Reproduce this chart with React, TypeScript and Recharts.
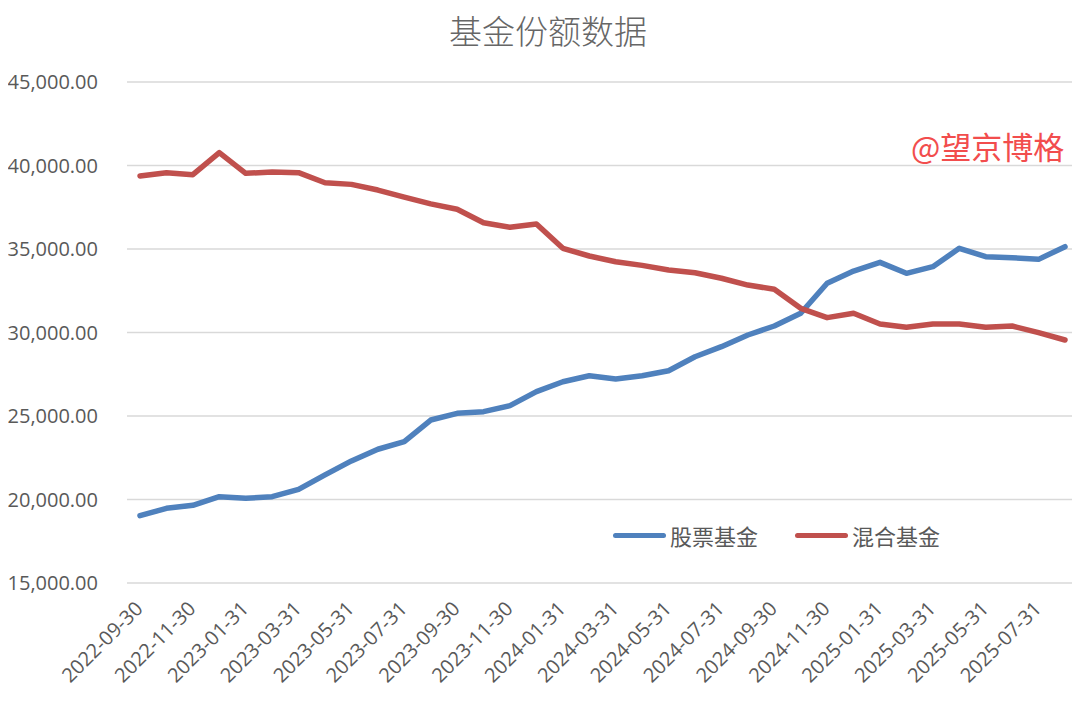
import { CartesianGrid, Line, LineChart, XAxis, YAxis } from 'recharts';

const dates = [
  '2022-09-30', '2022-10-31', '2022-11-30', '2022-12-31',
  '2023-01-31', '2023-02-28', '2023-03-31', '2023-04-30', '2023-05-31', '2023-06-30',
  '2023-07-31', '2023-08-31', '2023-09-30', '2023-10-31', '2023-11-30', '2023-12-31',
  '2024-01-31', '2024-02-29', '2024-03-31', '2024-04-30', '2024-05-31', '2024-06-30',
  '2024-07-31', '2024-08-31', '2024-09-30', '2024-10-31', '2024-11-30', '2024-12-31',
  '2025-01-31', '2025-02-28', '2025-03-31', '2025-04-30', '2025-05-31', '2025-06-30',
  '2025-07-31', '2025-08-31',
];

// 股票基金
const stockFund = [
  19030, 19470, 19650, 20170, 20070, 20170, 20610, 21470, 22310, 23010,
  23460, 24760, 25160, 25260, 25620, 26460, 27050, 27410, 27220, 27410,
  27710, 28550, 29150, 29850, 30390, 31150, 32950, 33680, 34200, 33545,
  33940, 35040, 34540, 34480, 34380, 35140,
];

// 混合基金
const mixedFund = [
  39370, 39570, 39450, 40770, 39530, 39610, 39570, 38970, 38870, 38530,
  38110, 37700, 37380, 36570, 36300, 36500, 35040, 34580, 34240, 34020,
  33740, 33580, 33250, 32840, 32590, 31450, 30890, 31150, 30510, 30310,
  30510, 30510, 30310, 30390, 29990, 29550,
];

const yTicks = [15000, 20000, 25000, 30000, 35000, 40000, 45000];

const seriesNames = ['股票基金', '混合基金'];
const seriesColors = ['#4f81bd', '#c0504d'];

const data = dates.map((d, i) => ({ date: d, stock: stockFund[i], mixed: mixedFund[i] }));

const tickFont = '"Open Sans", "Liberation Sans", sans-serif';
const cjkFont = '"Noto Sans CJK SC", sans-serif';
const gray = '#595959';

const fmt = (v: number) => v.toLocaleString('en-US', { minimumFractionDigits: 2, maximumFractionDigits: 2 });

function XTick({ x, y, payload }: any) {
  return (
    <text
      transform={`translate(${x + 4},${y + 27}) rotate(-45)`}
      textAnchor="end"
      fill={gray}
      fontSize={20}
      fontFamily={tickFont}
    >
      {payload.value}
    </text>
  );
}

function LegendBox() {
  return (
    <div
      style={{
        position: 'absolute', top: 519, left: 613, display: 'flex', alignItems: 'center',
        fontFamily: cjkFont, fontSize: 22, color: gray, zIndex: 2,
      }}
    >
      {seriesNames.map((name, i) => (
        <div key={name} style={{ display: 'flex', alignItems: 'center', marginRight: i === 0 ? 37 : 0 }}>
          <span style={{ display: 'inline-block', width: 53, height: 5, borderRadius: 3, background: seriesColors[i], marginRight: 4 }} />
          <span>{name}</span>
        </div>
      ))}
    </div>
  );
}

export default function App() {
  return (
    <div style={{ position: 'relative', width: 1080, height: 704, margin: -8, background: '#fff' }}>
      <div
        style={{
          position: 'absolute', top: 6, left: 0, width: 1096, textAlign: 'center',
          fontFamily: cjkFont, fontSize: 33, fontWeight: 300, color: '#666', zIndex: 2,
        }}
      >
        基金份额数据
      </div>
      <div
        style={{
          position: 'absolute', top: 123, left: 911, fontFamily: cjkFont, fontSize: 31,
          color: '#f24d4d', zIndex: 2,
        }}
      >
        @望京博格
      </div>
      <LegendBox />
      <LineChart width={1080} height={704} data={data} margin={{ top: 82, right: 2, left: 0, bottom: 0 }}>
        <CartesianGrid vertical={false} stroke="#d9d9d9" strokeWidth={1.5} />
        <XAxis
          dataKey="date"
          interval={1}
          height={121}
          axisLine={false}
          tickLine={false}
          tickSize={0}
          tickMargin={0}
          padding={{ left: 13, right: 13 }}
          tick={<XTick />}
        />
        <YAxis
          width={127}
          domain={[15000, 45000]}
          ticks={yTicks}
          tickFormatter={fmt}
          axisLine={false}
          tickLine={false}
          tickSize={0}
          tickMargin={29}
          tick={{ fill: gray, fontSize: 20, fontFamily: tickFont }}
        />
        <Line
          type="linear"
          dataKey="stock"
          name={seriesNames[0]}
          stroke={seriesColors[0]}
          strokeWidth={5.5}
          strokeLinecap="round"
          strokeLinejoin="round"
          dot={false}
          isAnimationActive={false}
        />
        <Line
          type="linear"
          dataKey="mixed"
          name={seriesNames[1]}
          stroke={seriesColors[1]}
          strokeWidth={5.5}
          strokeLinecap="round"
          strokeLinejoin="round"
          dot={false}
          isAnimationActive={false}
        />
      </LineChart>
    </div>
  );
}
